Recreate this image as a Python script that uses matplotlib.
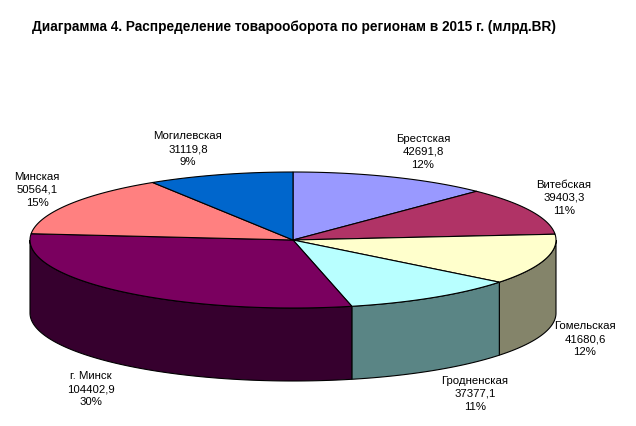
import numpy as np
import matplotlib
matplotlib.use('Agg')
import matplotlib.pyplot as plt

# Data
regions = ['Брестская', 'Витебская', 'Гомельская', 'Гродненская', 'г. Минск', 'Минская', 'Могилевская']
values = [42691.8, 39403.3, 41680.6, 37377.1, 104402.9, 50564.1, 31119.8]
title = 'Диаграмма 4. Распределение товарооборота по регионам в 2015 г. (млрд.BR)'

# Colours
top_colors = ['#9999FF', '#B03366', '#FFFFCC', '#B8FFFF', '#7A005F', '#FF8080', '#0066CC']
side_colors = ['#6B6BB3', '#7B2447', '#84846A', '#5A8585', '#36002E', '#B35A5A', '#00478F']

# Pie geometry in pixels
cx, cy = 293, 240
rx, ry = 263, 68
depth = 73

# Label centres in pixels (middle line)
label_pos = [(423, 152), (564, 198), (585, 339), (475, 394), (91, 389), (37, 190), (188, 149)]

plt.rcParams['font.family'] = ['Liberation Sans', 'DejaVu Sans']

fig = plt.figure(figsize=(6.36, 4.26), dpi=100)
ax = fig.add_axes([0, 0, 1, 1])
ax.set_xlim(0, 636)
ax.set_ylim(426, 0)
ax.axis('off')


def rim(a, b, dy=0):
    t = np.linspace(a, b, 120)
    return cx + rx * np.sin(t), cy - ry * np.cos(t) + dy


total = sum(values)
edges = 2 * np.pi * np.cumsum([0] + values) / total

# Side wall first (only the front half is visible)
for i in range(len(values)):
    a = max(edges[i], np.pi / 2)
    b = min(edges[i + 1], 3 * np.pi / 2)
    if b <= a:
        continue
    x, y = rim(a, b)
    x2, y2 = rim(b, a, depth)
    ax.fill(np.r_[x, x2], np.r_[y, y2], facecolor=side_colors[i], edgecolor='black', lw=0.8, zorder=2)

# Top of the pie
for i in range(len(values)):
    x, y = rim(edges[i], edges[i + 1])
    ax.fill(np.r_[cx, x], np.r_[cy, y], facecolor=top_colors[i], edgecolor='black', lw=0.8, zorder=3)

# Labels
for name, v, pos in zip(regions, values, label_pos):
    txt = '%s\n%s\n%d%%' % (name, ('%.1f' % v).replace('.', ','), round(v / total * 100))
    ax.text(pos[0], pos[1], txt, ha='center', va='center', fontsize=8.2, linespacing=1.42, color='black')

ax.text(32, 27, title, ha='left', va='center', fontsize=9.85, fontweight='bold', color='black')

fig.savefig('out.png', dpi=100, facecolor='white')
